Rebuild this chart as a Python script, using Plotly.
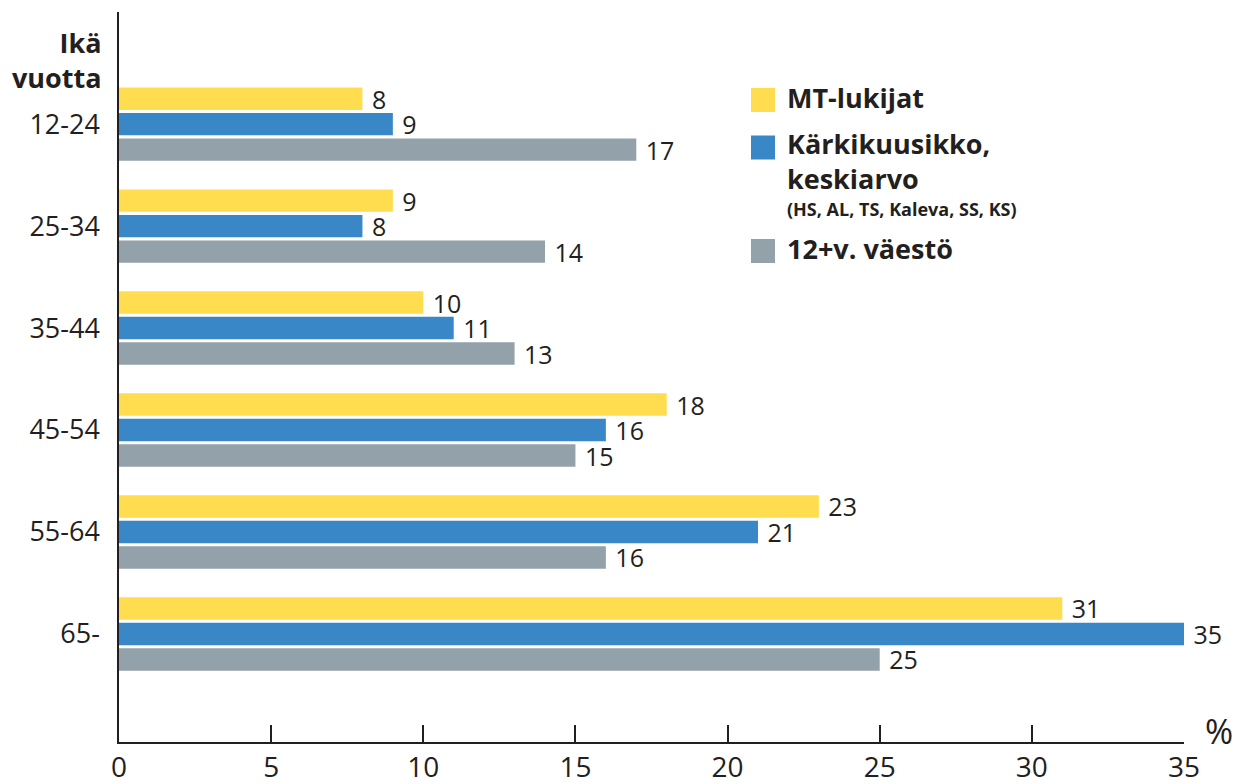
import plotly.graph_objects as go

categories = ["12-24", "25-34", "35-44", "45-54", "55-64", "65-"]
mt_lukijat = [8, 9, 10, 18, 23, 31]
karkikuusikko = [9, 8, 11, 16, 21, 35]
vaesto = [17, 14, 13, 15, 16, 25]
x_ticks = [0, 5, 10, 15, 20, 25, 30, 35]

series = [
    ("MT-lukijat", mt_lukijat, "#FFDD4F"),
    ("Kärkikuusikko, keskiarvo", karkikuusikko, "#3A87C8"),
    ("12+v. väestö", vaesto, "#93A1AA"),
]

FONT = "Open Sans, sans-serif"
INK = "#231F20"

L, R, T, B = 119, 1184, 12, 742
W = R - L
H = B - T

def px(x):
    return (x - L) / W

def py(y):
    return (B - y) / H

fig = go.Figure()
for name, vals, col in series:
    fig.add_trace(go.Bar(
        y=categories, x=vals, name=name, orientation="h",
        marker=dict(color=col, line=dict(width=0)),
        text=vals, texttemplate="\u00a0%{x}", textposition="outside", cliponaxis=False,
        constraintext="none",
        textfont=dict(family=FONT, size=25, color=INK),
        showlegend=False,
    ))

fig.update_layout(
    width=1238, height=784,
    margin=dict(l=L, r=1238 - R, t=T, b=784 - B),
    paper_bgcolor="white", plot_bgcolor="white",
    barmode="group", bargap=0.25, bargroupgap=0.12,
    font=dict(family=FONT, color=INK),
    xaxis=dict(
        range=[0, 35], tickvals=x_ticks, ticks="inside", ticklen=17,
        tickwidth=1.5, tickcolor=INK, showline=True, linecolor=INK,
        linewidth=1.5, showgrid=False, zeroline=False, automargin=False,
        tickfont=dict(family=FONT, size=28, color=INK),
    ),
    yaxis=dict(
        autorange=False, range=[6.06, -1.10], showline=True, linecolor=INK,
        linewidth=1.5, showgrid=False, zeroline=False, ticks="", automargin=False,
        tickfont=dict(family=FONT, size=27, color=INK), ticklabelstandoff=12,
    ),
)

# Axis titles
fig.add_annotation(xref="paper", yref="paper", x=px(104), y=py(60), xanchor="right",
                   yanchor="middle", text="<b>Ikä<br>vuotta</b>", showarrow=False,
                   align="right", font=dict(family=FONT, size=27, color=INK))
fig.add_annotation(xref="paper", yref="paper", x=px(1203), y=py(731), xanchor="left",
                   yanchor="middle", text="%", showarrow=False,
                   font=dict(family=FONT, size=34, color=INK))

# Custom legend
squares = [(100, "#FFDD4F"), (147.5, "#3A87C8"), (251, "#93A1AA")]
for yc, col in squares:
    fig.add_shape(type="rect", xref="paper", yref="paper", x0=px(751), x1=px(775),
                  y0=py(yc + 12), y1=py(yc - 12), fillcolor=col, line=dict(width=0))
legend_texts = [
    ("MT-lukijat", 98, 27),
    ("Kärkikuusikko,<br>keskiarvo", 161, 27),
    ("(HS, AL, TS, Kaleva, SS, KS)", 209, 18),
    ("12+v. väestö", 248, 27),
]
for txt, yc, sz in legend_texts:
    fig.add_annotation(xref="paper", yref="paper", x=px(785), y=py(yc),
                       xanchor="left", yanchor="middle", text="<b>" + txt + "</b>",
                       align="left", showarrow=False, font=dict(family=FONT, size=sz, color=INK))

fig.write_html("out.html", config={"displayModeBar": False},
               post_script="document.body.style.margin='0';document.body.style.overflow='hidden';")
